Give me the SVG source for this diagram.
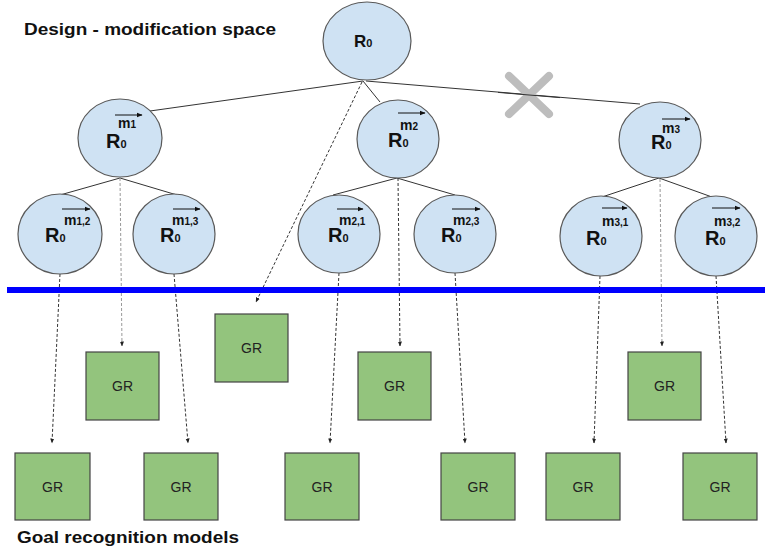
<svg xmlns="http://www.w3.org/2000/svg" width="765" height="557" viewBox="0 0 765 557">
<defs>
<style>
.st{fill:#cfe2f3;stroke:#595959;stroke-width:1.2}
.gr{fill:#93c47d;stroke:#444;stroke-width:1.2}
.grt{font-family:"Liberation Sans",Arial,sans-serif;font-size:14px;fill:#222;text-anchor:middle}
.R{font-family:"Liberation Sans",Arial,sans-serif;font-size:20px;font-weight:bold;fill:#111}
.sub{font-size:11px;font-weight:bold}
.m{font-family:"Liberation Sans",Arial,sans-serif;font-size:14px;font-weight:bold;fill:#111}
.ms{font-size:10px}
.vec{stroke:#111;stroke-width:1;marker-end:url(#va)}
.tree{stroke:#333;stroke-width:1;fill:none}
.dash{stroke:#333;stroke-width:1;stroke-dasharray:3,2;fill:none;marker-end:url(#da)}
.dashl{stroke:#999;stroke-width:1;stroke-dasharray:3,2;fill:none;marker-end:url(#da)}
.title{font-family:"Liberation Sans",Arial,sans-serif;font-size:16px;font-weight:bold;fill:#111}
</style>
<marker id="va" viewBox="0 0 10 10" refX="9" refY="5" markerWidth="6" markerHeight="6" orient="auto" markerUnits="userSpaceOnUse"><path d="M0,1 L10,5 L0,9 z" fill="#111"/></marker>
<marker id="da" viewBox="0 0 10 10" refX="9" refY="5" markerWidth="5" markerHeight="5" orient="auto" markerUnits="userSpaceOnUse"><path d="M0,1 L10,5 L0,9 z" fill="#222"/></marker>
</defs>
<rect width="765" height="557" fill="#fff"/>

<text class="title" x="24" y="35" textLength="252" lengthAdjust="spacingAndGlyphs">Design - modification space</text>
<text class="title" x="17" y="543" textLength="222" lengthAdjust="spacingAndGlyphs">Goal recognition models</text>

<g id="connectors">
<line class="tree" x1="363" y1="81" x2="150" y2="111"/>
<line class="tree" x1="363" y1="81" x2="380" y2="102"/>
<line class="tree" x1="366" y1="81" x2="640" y2="104"/>
<line class="tree" x1="120" y1="178" x2="60" y2="195"/>
<line class="tree" x1="120" y1="178" x2="177" y2="195"/>
<line class="tree" x1="397" y1="178" x2="333" y2="195"/>
<line class="tree" x1="397" y1="178" x2="455" y2="195"/>
<line class="tree" x1="659" y1="178" x2="602" y2="197"/>
<line class="tree" x1="659" y1="178" x2="712" y2="197"/>
<line class="dashl" x1="120" y1="178" x2="122" y2="346"/>
<line class="dash" x1="60" y1="274" x2="52" y2="443"/>
<line class="dash" x1="174" y1="274" x2="188" y2="443"/>
<line class="dash" x1="362" y1="82" x2="256" y2="302"/>
<line class="dash" x1="398" y1="178" x2="400" y2="346"/>
<line class="dash" x1="339" y1="273" x2="330" y2="443"/>
<line class="dash" x1="455" y1="273" x2="465" y2="443"/>
<line class="dashl" x1="660" y1="179" x2="662" y2="346"/>
<line class="dash" x1="600" y1="276" x2="594" y2="443"/>
<line class="dash" x1="716" y1="276" x2="726" y2="443"/>
</g>

<g id="cross" stroke="#bdbdbd" stroke-width="8" stroke-linecap="round">
<line x1="509" y1="76" x2="549" y2="114"/>
<line x1="549" y1="76" x2="509" y2="114"/>
</g>
<line class="tree" x1="498" y1="92.4" x2="560" y2="97.6"/>

<rect x="7" y="287" width="758" height="6" fill="#0000ff"/>

<g id="root">
<ellipse class="st" cx="367" cy="41" rx="44" ry="39"/>
<text class="R" x="354" y="47" style="font-size:17px">R<tspan class="sub">0</tspan></text>
</g>

<g id="m1">
<ellipse class="st" cx="120" cy="138" rx="42" ry="39"/>
<line class="vec" x1="115" y1="115" x2="142" y2="115"/>
<text class="m" x="118" y="128">m<tspan class="ms">1</tspan></text>
<text class="R" x="106" y="148">R<tspan class="sub">0</tspan></text>
</g>
<g id="m2">
<ellipse class="st" cx="398" cy="139" rx="41" ry="39"/>
<line class="vec" x1="398" y1="113" x2="425" y2="113"/>
<text class="m" x="400" y="130">m<tspan class="ms">2</tspan></text>
<text class="R" x="388" y="147">R<tspan class="sub">0</tspan></text>
</g>
<g id="m3">
<ellipse class="st" cx="660" cy="140" rx="41" ry="38"/>
<line class="vec" x1="662" y1="119" x2="690" y2="119"/>
<text class="m" x="662" y="133">m<tspan class="ms">3</tspan></text>
<text class="R" x="651" y="149">R<tspan class="sub">0</tspan></text>
</g>

<g id="m12">
<ellipse class="st" cx="60" cy="234" rx="42" ry="40"/>
<line class="vec" x1="62" y1="209" x2="90" y2="209"/>
<text class="m" x="64" y="225">m<tspan class="ms">1,2</tspan></text>
<text class="R" x="45" y="242">R<tspan class="sub">0</tspan></text>
</g>
<g id="m13">
<ellipse class="st" cx="174" cy="234" rx="41" ry="40"/>
<line class="vec" x1="173" y1="209" x2="200" y2="209"/>
<text class="m" x="172" y="225">m<tspan class="ms">1,3</tspan></text>
<text class="R" x="160" y="242">R<tspan class="sub">0</tspan></text>
</g>
<g id="m21">
<ellipse class="st" cx="339" cy="234" rx="41" ry="39"/>
<line class="vec" x1="337" y1="209" x2="363" y2="209"/>
<text class="m" x="339" y="225">m<tspan class="ms">2,1</tspan></text>
<text class="R" x="328" y="242">R<tspan class="sub">0</tspan></text>
</g>
<g id="m23">
<ellipse class="st" cx="455" cy="234" rx="41" ry="39"/>
<line class="vec" x1="452" y1="209" x2="480" y2="209"/>
<text class="m" x="453" y="225">m<tspan class="ms">2,3</tspan></text>
<text class="R" x="441" y="242">R<tspan class="sub">0</tspan></text>
</g>
<g id="m31">
<ellipse class="st" cx="601" cy="236" rx="41" ry="40"/>
<line class="vec" x1="602" y1="208" x2="627" y2="208"/>
<text class="m" x="602" y="226">m<tspan class="ms">3,1</tspan></text>
<text class="R" x="586" y="245">R<tspan class="sub">0</tspan></text>
</g>
<g id="m32">
<ellipse class="st" cx="716" cy="236" rx="41" ry="40"/>
<line class="vec" x1="712" y1="208" x2="740" y2="208"/>
<text class="m" x="714" y="226">m<tspan class="ms">3,2</tspan></text>
<text class="R" x="705" y="245">R<tspan class="sub">0</tspan></text>
</g>

<g id="grA"><rect class="gr" x="86" y="352" width="73" height="68"/><text class="grt" x="122.5" y="391">GR</text></g>
<g id="grB"><rect class="gr" x="215" y="314" width="73" height="68"/><text class="grt" x="251.5" y="353">GR</text></g>
<g id="grC"><rect class="gr" x="358" y="352" width="73" height="68"/><text class="grt" x="394.5" y="391">GR</text></g>
<g id="grD"><rect class="gr" x="628" y="352" width="73" height="68"/><text class="grt" x="664.5" y="391">GR</text></g>
<g id="grE"><rect class="gr" x="15" y="453" width="75" height="67"/><text class="grt" x="52.5" y="492">GR</text></g>
<g id="grF"><rect class="gr" x="144" y="453" width="74" height="67"/><text class="grt" x="181" y="492">GR</text></g>
<g id="grG"><rect class="gr" x="285" y="453" width="74" height="67"/><text class="grt" x="322" y="492">GR</text></g>
<g id="grH"><rect class="gr" x="441" y="453" width="74" height="67"/><text class="grt" x="478" y="492">GR</text></g>
<g id="grI"><rect class="gr" x="546" y="453" width="74" height="67"/><text class="grt" x="583" y="492">GR</text></g>
<g id="grJ"><rect class="gr" x="683" y="453" width="74" height="67"/><text class="grt" x="720" y="492">GR</text></g>
</svg>
